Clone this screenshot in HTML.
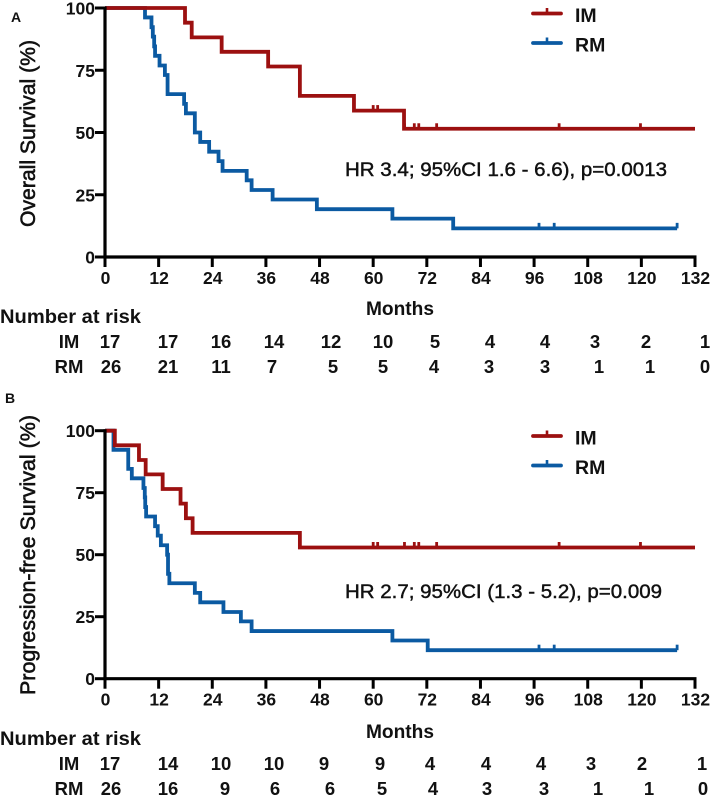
<!DOCTYPE html>
<html lang="en">
<head>
<meta charset="utf-8">
<title>Kaplan-Meier survival curves</title>
<style>
html,body{margin:0;padding:0;background:#fff;width:711px;height:798px;overflow:hidden}
svg{position:absolute;left:0;top:0;display:block;filter:blur(.3px)}
text{font-family:"Liberation Sans",Arial,sans-serif;fill:#111}
.b{font-weight:bold}
.t{font-size:17.5px;font-weight:bold}
.r{font-size:18.5px;font-weight:bold;text-anchor:middle}
.title{font-size:21.5px;stroke:#111;stroke-width:.6px}
.ann{font-size:19.5px;stroke:#111;stroke-width:.45px}
</style>
</head>
<body>
<svg id="fig" width="711" height="798" viewBox="0 0 711 798" xmlns="http://www.w3.org/2000/svg">
  <text class="b" x="11" y="22" font-size="14">A</text>
  <text class="title" transform="translate(35,227) rotate(-90)" textLength="187" lengthAdjust="spacingAndGlyphs">Overall Survival (%)</text>
  <text class="ann" x="345" y="176" textLength="322" lengthAdjust="spacingAndGlyphs">HR 3.4; 95%CI 1.6 - 6.6), p=0.0013</text>
  <text class="b" x="366" y="315" font-size="19" textLength="68" lengthAdjust="spacingAndGlyphs">Months</text>
  <text class="b" x="0" y="323" font-size="19" textLength="141" lengthAdjust="spacingAndGlyphs">Number at risk</text>
  <g>
    <text class="r" x="69" y="348">IM</text>
    <text class="r" x="110" y="348">17</text>
    <text class="r" x="168" y="348">17</text>
    <text class="r" x="221" y="348">16</text>
    <text class="r" x="274" y="348">14</text>
    <text class="r" x="331" y="348">12</text>
    <text class="r" x="383" y="348">10</text>
    <text class="r" x="435" y="348">5</text>
    <text class="r" x="490" y="348">4</text>
    <text class="r" x="545" y="348">4</text>
    <text class="r" x="595" y="348">3</text>
    <text class="r" x="646" y="348">2</text>
    <text class="r" x="705" y="348">1</text>
    <text class="r" x="69" y="373">RM</text>
    <text class="r" x="111" y="373">26</text>
    <text class="r" x="168" y="373">21</text>
    <text class="r" x="221" y="373">11</text>
    <text class="r" x="272" y="373">7</text>
    <text class="r" x="333" y="373">5</text>
    <text class="r" x="383" y="373">5</text>
    <text class="r" x="434" y="373">4</text>
    <text class="r" x="489" y="373">3</text>
    <text class="r" x="545" y="373">3</text>
    <text class="r" x="599" y="373">1</text>
    <text class="r" x="650" y="373">1</text>
    <text class="r" x="705" y="373">0</text>
  </g>

  <text class="b" x="5" y="403" font-size="14">B</text>
  <text class="title" transform="translate(35,695) rotate(-90)" textLength="280" lengthAdjust="spacingAndGlyphs">Progression-free Survival (%)</text>
  <text class="ann" x="345" y="598" textLength="317" lengthAdjust="spacingAndGlyphs">HR 2.7; 95%CI (1.3 - 5.2), p=0.009</text>
  <text class="b" x="366" y="738" font-size="19" textLength="68" lengthAdjust="spacingAndGlyphs">Months</text>
  <text class="b" x="0" y="745" font-size="19" textLength="141" lengthAdjust="spacingAndGlyphs">Number at risk</text>
  <g>
    <text class="r" x="69" y="770">IM</text>
    <text class="r" x="110" y="770">17</text>
    <text class="r" x="168" y="770">14</text>
    <text class="r" x="221" y="770">10</text>
    <text class="r" x="274" y="770">10</text>
    <text class="r" x="324" y="770">9</text>
    <text class="r" x="380" y="770">9</text>
    <text class="r" x="430" y="770">4</text>
    <text class="r" x="486" y="770">4</text>
    <text class="r" x="541" y="770">4</text>
    <text class="r" x="591" y="770">3</text>
    <text class="r" x="642" y="770">2</text>
    <text class="r" x="702" y="770">1</text>
    <text class="r" x="69" y="795">RM</text>
    <text class="r" x="111" y="795">26</text>
    <text class="r" x="168" y="795">16</text>
    <text class="r" x="225" y="795">9</text>
    <text class="r" x="275" y="795">6</text>
    <text class="r" x="330" y="795">6</text>
    <text class="r" x="382" y="795">5</text>
    <text class="r" x="433" y="795">4</text>
    <text class="r" x="487" y="795">3</text>
    <text class="r" x="544" y="795">3</text>
    <text class="r" x="598" y="795">1</text>
    <text class="r" x="649" y="795">1</text>
    <text class="r" x="703" y="795">0</text>
  </g>
</svg>
<script>
const xTicks = [0, 12, 24, 36, 48, 60, 72, 84, 96, 108, 120, 132];
const yTicks = [0, 25, 50, 75, 100];

const osImMonths = [0, 17.9, 19.4, 26.1, 36.5, 43.6, 55.7, 66.9, 132];
const osImSurvival = [100, 94.1, 88.2, 82.4, 76.5, 64.7, 58.8, 51.5, 51.5];
const osImCensored = [60, 61, 67, 69.2, 70.2, 74.2, 101.6, 119.8];

const osRmMonths = [0, 8.95, 10.4, 10.7, 11, 11.2, 12.2, 13.4, 14, 17.7, 18.1, 20.1, 21.3, 23.3, 25.4, 26.3, 31.7, 32.8, 37.5, 47.4, 64.3, 77.9, 128];
const osRmSurvival = [100, 96.2, 92.3, 88.5, 84.6, 80.8, 76.9, 73.1, 65.4, 61.5, 57.7, 50, 46.2, 42.3, 38.5, 34.6, 30.8, 26.9, 23.1, 19.2, 15.4, 11.5, 11.5];
const osRmCensored = [97.1, 100.5, 128];

const pfsImMonths = [0, 2.2, 7.6, 9.1, 12.9, 16.9, 18.1, 19.6, 43.6, 132];
const pfsImSurvival = [100, 94.1, 88.2, 82.4, 76.5, 70.6, 64.7, 58.8, 52.9, 52.9];
const pfsImCensored = [60, 61, 67, 69.2, 70.2, 74.2, 101.6, 119.8];

const pfsRmMonths = [0, 1.9, 5.2, 6, 8.6, 8.9, 9, 9.2, 11.2, 11.8, 12.5, 13.9, 14.1, 14.4, 20.1, 21.3, 26.5, 30.4, 32.8, 64.3, 72.2, 128];
const pfsRmSurvival = [100, 92.3, 84.6, 80.8, 76.9, 73.1, 69.2, 65.4, 61.5, 57.7, 53.8, 50, 42.3, 38.5, 34.6, 30.8, 26.9, 23.1, 19.2, 15.4, 11.5, 11.5];
const pfsRmCensored = [97.1, 100.5, 128];

const legendLabels = ['IM', 'RM'];

const RED = '#9c1010';
const BLUE = '#0b5aa2';
const NS = 'http://www.w3.org/2000/svg';
const svg = document.getElementById('fig');

function make(tag, parent, attrs, name) {
  const el = document.createElementNS(NS, tag);
  for (const k in attrs) el.setAttribute(k, attrs[k]);
  
  
  parent.appendChild(el);
  return el;
}

function survivalAt(months, survival, m) {
  let v = survival[0];
  for (let i = 0; i < months.length; i++) {
    if (months[i] <= m) v = survival[i];
  }
  return v;
}

function drawPanel(cfg) {
  const xScale = m => 105 + m * (590 / 132);
  const yScale = v => cfg.y0 - v * ((cfg.y0 - cfg.y100) / 100);
  const g = make('g', svg, {}, cfg.id + '-plot');

  function series(months, survival, censored, color, key) {
    let d = 'M' + xScale(months[0]) + ' ' + yScale(survival[0]);
    for (let i = 1; i < months.length; i++) {
      d += 'H' + xScale(months[i]) + 'V' + yScale(survival[i]);
    }
    make('path', g, { d: d, fill: 'none', stroke: color, 'stroke-width': 3.8, 'stroke-linejoin': 'miter' }, cfg.id + '-' + key + '-curve');
    censored.forEach(m => {
      const y = yScale(survivalAt(months, survival, m));
      make('line', g, { x1: xScale(m), x2: xScale(m), y1: y, y2: y - 5.5, stroke: color, 'stroke-width': 2.8 }, cfg.id + '-' + key + '-censor-mark');
    });
  }
  series(cfg.rmM, cfg.rmS, cfg.rmC, BLUE, 'rm');
  series(cfg.imM, cfg.imS, cfg.imC, RED, 'im');

  make('line', g, { x1: 105, x2: 105, y1: yScale(100) - 1.5, y2: yScale(0) + 1.5, stroke: '#000', 'stroke-width': 3.2 }, cfg.id + '-y-axis');
  make('line', g, { x1: 103.5, x2: xScale(132) + 1.5, y1: yScale(0), y2: yScale(0), stroke: '#000', 'stroke-width': 3.2 }, cfg.id + '-x-axis');

  yTicks.forEach(v => {
    make('line', g, { x1: 95, x2: 105, y1: yScale(v), y2: yScale(v), stroke: '#000', 'stroke-width': 3 }, cfg.id + '-y-tick');
    const t = make('text', g, { x: 95, y: yScale(v) + 6.5, 'text-anchor': 'end', class: 't' }, cfg.id + '-y-tick-label');
    t.textContent = v;
  });
  xTicks.forEach(m => {
    make('line', g, { x1: xScale(m), x2: xScale(m), y1: yScale(0), y2: yScale(0) + 10, stroke: '#000', 'stroke-width': 3 }, cfg.id + '-x-tick');
    const t = make('text', g, { x: xScale(m) + 0.5, y: yScale(0) + 27, 'text-anchor': 'middle', class: 't' }, cfg.id + '-x-tick-label');
    t.textContent = m;
  });

  legendLabels.forEach((label, i) => {
    const y = cfg.legendY + i * 29.5;
    const color = i === 0 ? RED : BLUE;
    make('line', g, { x1: 533, x2: 561, y1: y, y2: y, stroke: color, 'stroke-width': 3.8, 'stroke-linecap': 'round' }, cfg.id + '-legend-line-' + label.toLowerCase());
    make('line', g, { x1: 547, x2: 547, y1: y, y2: y - 5.5, stroke: color, 'stroke-width': 2.6 }, cfg.id + '-legend-mark-' + label.toLowerCase());
    const t = make('text', g, { x: 575, y: y + 8.5, class: 'b', 'font-size': 19.5 }, cfg.id + '-legend-entry-' + label.toLowerCase());
    t.textContent = label;
  });
}

drawPanel({ id: 'panel-a', y0: 257, y100: 8, legendY: 13.5,
  imM: osImMonths, imS: osImSurvival, imC: osImCensored,
  rmM: osRmMonths, rmS: osRmSurvival, rmC: osRmCensored });
drawPanel({ id: 'panel-b', y0: 678.7, y100: 430.7, legendY: 436,
  imM: pfsImMonths, imS: pfsImSurvival, imC: pfsImCensored,
  rmM: pfsRmMonths, rmS: pfsRmSurvival, rmC: pfsRmCensored });
</script>
</body>
</html>
